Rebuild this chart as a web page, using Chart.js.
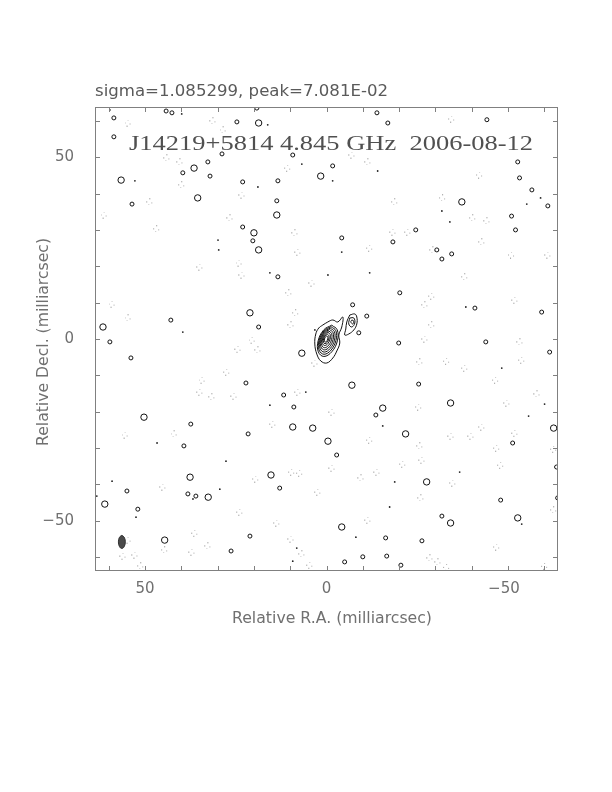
<!DOCTYPE html>
<html>
<head>
<meta charset="utf-8">
<script src="https://cdn.jsdelivr.net/npm/chart.js@4.4.1/dist/chart.umd.min.js"></script>
<style>
  html, body { margin: 0; padding: 0; background: #fff; }
  canvas { display: block; }
</style>
</head>
<body>
<canvas id="map" width="612" height="792"></canvas>
<script>
// Contour map of J14219+5814, 4.845 GHz, 2006-08-12 (offsets in mas)
const axisLimit = 63.8;
const tickValues = [60, 50, 40, 30, 20, 10, 0, -10, -20, -30, -40, -50, -60];
const labelValues = [50, 0, -50];

// nested core contours, [RA, Dec]
const coreContours = [
  [[-0.11, 0.85], [-0.37, 0.6], [-0.35, 0], [-0.07, -0.6], [0.31, -0.85], [0.57, -0.6], [0.55, 0], [0.27, 0.6]],
  [[-0.25, 1.3], [-0.67, 0.91], [-0.65, 0], [-0.2, -0.91], [0.4, -1.3], [0.82, -0.91], [0.8, 0], [0.36, 0.91]],
  [[-0.43, 1.8], [-1.01, 1.26], [-1.0, 0], [-0.38, -1.26], [0.48, -1.8], [1.07, -1.26], [1.05, 0], [0.43, 1.26]],
  [[-0.63, 2.2], [-1.4, 1.51], [-1.4, -0.1], [-0.6, -1.71], [0.53, -2.4], [1.3, -1.71], [1.3, -0.1], [0.5, 1.51]],
  [[-0.83, 2.6], [-1.79, 1.76], [-1.8, -0.2], [-0.81, -2.16], [0.58, -3.0], [1.54, -2.16], [1.55, -0.2], [0.56, 1.76]],
  [[-1.03, 3.0], [-2.18, 2.01], [-2.2, -0.3], [-1.02, -2.61], [0.63, -3.6], [1.78, -2.61], [1.8, -0.3], [0.62, 2.01]],
  [[-1.23, 3.4], [-2.58, 2.26], [-2.6, -0.4], [-1.24, -3.06], [0.68, -4.2], [2.03, -3.06], [2.05, -0.4], [0.69, 2.26]],
  [[-1.43, 3.8], [-2.96, 2.51], [-3.0, -0.5], [-1.46, -3.51], [0.73, -4.8], [2.26, -3.51], [2.3, -0.5], [0.76, 2.51]],
  [[1.02, 3.85], [-0.36, 4.68], [-1.74, 5.23], [-3.11, 4.68], [-4.49, 6.05], [-4.21, 3.3], [-3.39, 1.1], [-3.66, -1.1],
   [-2.84, -3.3], [-1.74, -5.23], [-0.08, -6.6], [1.57, -6.05], [2.67, -4.13], [3.22, -1.38], [2.95, 1.38], [2.12, 3.03]]
];

// secondary component to the north-west
const jetContours = [
  [[-6.42, 6.6], [-7.79, 6.88], [-8.35, 6.05], [-8.35, 4.13], [-7.52, 2.48], [-6.14, 1.38], [-5.04, 1.1], [-5.32, 2.75], [-5.59, 4.68]],
  [[-6.42, 5.78], [-7.52, 5.78], [-7.8, 4.4], [-6.97, 3.3], [-6.14, 4.13]],
  [[-6.97, 5.23], [-7.52, 4.95], [-7.25, 4.13], [-6.7, 4.68]]
];

// restoring beam (filled, bottom left)
const beamOutline = [[56.4, -54.0], [55.75, -54.5], [55.45, -55.8], [55.75, -57.1], [56.4, -57.6], [57.05, -57.1], [57.35, -55.8], [57.05, -54.5]];

// noise contours: larger closed loops
const blobLarge = [
  [18.7, 59.4], [36.5, 47.0], [1.6, 44.8], [56.6, 43.7], [35.5, 38.8], [13.7, 34.1], [20.0, 29.2], [18.7, 24.5],
  [21.1, 7.2], [61.6, 3.3], [6.8, -3.9], [50.3, -21.5], [9.3, -24.2], [3.8, -24.5], [37.6, -38.0], [15.3, -37.4],
  [61.1, -45.4], [32.6, -43.5], [44.6, -55.3], [-37.3, 37.7], [-7.0, -12.7], [-34.2, -17.6], [-15.5, -19.0],
  [-21.8, -26.1], [-0.4, -28.1], [-62.6, -24.5], [-27.6, -39.3], [-34.2, -50.6], [-52.7, -49.2], [-4.2, -51.7]
];

// noise contours: small closed loops
const blobSmall = [
  [44.2, 62.7], [42.6, 62.2], [58.6, 60.8], [24.7, 59.7], [19.2, 63.5], [58.6, 55.6], [28.8, 50.9], [9.3, 50.6],
  [32.7, 48.7], [39.6, 45.7], [32.1, 44.8], [23.1, 43.2], [13.4, 43.5], [13.7, 38.0], [53.6, 37.1], [23.1, 30.8],
  [20.3, 27.0], [13.4, 17.1], [42.9, 5.2], [18.7, 3.3], [-13.9, 62.2], [-16.9, 59.4], [-44.2, 60.3], [-1.7, 47.6],
  [-52.7, 48.7], [-53.2, 44.3], [-56.6, 41.0], [-61.0, 36.6], [-51.0, 33.8], [-52.1, 30.0], [-24.6, 30.0],
  [-18.3, 26.7], [-4.2, 27.8], [-30.4, 24.5], [-31.8, 22.0], [-34.5, 23.4], [-20.2, 12.7], [-7.2, 9.4],
  [-11.1, 6.3], [-40.9, 8.5], [-59.3, 7.4], [-8.9, 1.7], [59.7, -0.8], [53.9, -5.2], [22.2, -12.1], [11.8, -15.4],
  [9.0, -18.7], [37.4, -23.4], [21.6, -26.1], [39.3, -29.4], [12.9, -41.0], [55.0, -41.8], [38.2, -42.6],
  [36.0, -43.2], [52.0, -46.8], [21.1, -54.2], [26.3, -58.3], [-19.9, -1.1], [-43.9, -0.8], [-61.5, -3.6],
  [-25.4, -12.4], [-13.6, -20.9], [-2.8, -31.9], [-51.3, -28.6], [-63.4, -35.2], [-48.0, -44.3], [-63.7, -43.7],
  [-31.8, -48.7], [-16.3, -54.7], [-26.3, -55.5], [-10.0, -59.9], [-16.6, -59.7], [-5.0, -61.3], [-20.5, -62.2]
];

// noise contours: unresolved specks
const blobDot = [
  [59.7, 63.0], [39.9, 61.9], [16.2, 58.9], [6.8, 48.1], [52.8, 43.5], [18.9, 41.8], [15.6, 18.2], [39.6, 1.9],
  [29.9, 27.2], [29.7, 24.5], [-14.1, 46.2], [-1.7, 43.5], [-59.0, 38.8], [-55.2, 37.1], [-31.8, 35.2], [-34.0, 32.2],
  [-4.2, 23.9], [-11.9, 18.2], [-0.4, 17.6], [-38.4, 8.8], [3.2, 2.5], [15.6, -18.2], [5.7, -14.6], [46.7, -28.6],
  [27.7, -33.6], [59.1, -39.1], [36.8, -44.0], [63.3, -43.2], [52.5, -49.0], [29.4, -41.3], [9.3, -61.1], [8.2, -57.5],
  [-48.3, -8.0], [-15.5, -23.9], [-36.7, -36.6], [-18.8, -39.3], [-53.8, -50.9], [-8.1, -54.5], [-17.4, -46.2],
  [-60.1, -17.9], [-55.7, -21.2]
];

// negative (dashed) contours
const blobNegative = [
  [54.7, 59.4], [31.3, 60.0], [28.5, 57.5], [44.0, 49.8], [40.4, 48.7], [10.7, 47.0], [39.9, 42.4], [23.3, 39.6],
  [48.7, 37.7], [61.3, 34.1], [26.6, 33.3], [46.8, 30.3], [8.7, 29.2], [7.9, 23.9], [34.9, 19.8], [23.3, 17.6],
  [24.1, 20.9], [4.0, 15.4], [10.4, 12.7], [8.5, 7.2], [59.1, 9.6], [54.7, 5.8], [9.8, 3.9],
  [-34.5, 60.5], [-7.0, 50.6], [-11.4, 48.7], [-42.2, 45.1], [-32.0, 38.8], [-18.8, 37.7], [-40.3, 33.3],
  [-44.2, 32.5], [-18.3, 29.4], [-22.4, 29.4], [-11.9, 25.0], [-42.8, 26.7], [-29.3, 24.5], [-51.0, 23.1],
  [-38.1, 17.1], [-29.0, 11.8], [-51.9, 10.7], [-27.1, 9.4], [-29.0, 3.9], [-61.0, 23.1],
  [20.5, -0.3], [18.9, -3.0], [24.4, -2.8], [3.2, -6.6], [27.5, -9.1], [34.3, -11.3], [34.9, -14.6], [31.6, -15.9],
  [25.5, -15.7], [7.9, -14.6], [14.8, -23.4], [55.5, -26.4], [42.0, -26.1], [19.5, -38.5], [9.6, -36.6], [7.4, -36.9],
  [2.4, -42.1], [45.1, -40.7], [23.9, -47.6], [13.7, -50.6], [36.3, -53.4], [37.1, -58.6], [32.7, -56.9], [9.8, -55.0],
  [6.8, -59.1], [56.1, -59.7], [52.8, -59.4], [51.2, -62.4], [54.7, -55.3], [4.6, -62.2], [44.6, -58.0],
  [-27.1, 0.0], [-53.3, -0.8], [-25.7, -6.3], [-33.1, -6.1], [-38.1, -8.0], [-53.8, -5.8], [-46.6, -11.3],
  [-58.0, -15.1], [-49.7, -17.6], [-25.4, -18.7], [-1.5, -20.1], [-42.8, -24.2], [-51.9, -25.9], [-11.9, -27.8],
  [-34.3, -26.7], [-39.8, -26.7], [-25.7, -29.4], [-46.9, -30.0], [-62.6, -30.3], [-26.3, -33.3], [-48.0, -34.7],
  [-21.0, -34.4], [-1.5, -35.5], [-13.9, -36.6], [-9.5, -38.2], [-34.8, -39.6], [-26.0, -43.7], [-62.6, -47.0],
  [-11.4, -49.8], [-46.9, -57.2], [-30.7, -61.3], [-28.5, -60.2], [-33.1, -62.8], [-60.1, -62.5]
];

const toXY = pts => pts.map(p => ({ x: p[0], y: p[1] }));
const closeLoop = pts => toXY(pts.concat([pts[0]]));

// a few scattered grey pixels, like a tiny dashed contour
function dottedRing() {
  const c = document.createElement('canvas');
  c.width = 7; c.height = 7;
  const g = c.getContext('2d');
  g.fillStyle = '#a8a8a8';
  [[3, 0], [0, 3], [5, 4], [2, 6]].forEach(p => g.fillRect(p[0], p[1], 1, 1));
  return c;
}

const lineStyle = {
  type: 'line', showLine: true, borderColor: '#111', borderWidth: 1,
  pointRadius: 0, tension: 0.4, fill: false
};

const datasets = [];
coreContours.concat(jetContours).forEach(c => {
  datasets.push(Object.assign({ data: closeLoop(c) }, lineStyle));
});
datasets.push(Object.assign({}, lineStyle, {
  data: closeLoop(beamOutline), fill: 'shape', backgroundColor: '#4a4a4a', borderColor: '#333'
}));
datasets.push({
  type: 'scatter', data: toXY(blobLarge), pointStyle: 'circle', pointRadius: 3.2,
  backgroundColor: 'rgba(0,0,0,0)', borderColor: '#111', borderWidth: 1
});
datasets.push({
  type: 'scatter', data: toXY(blobSmall), pointStyle: 'circle', pointRadius: 2,
  backgroundColor: 'rgba(0,0,0,0)', borderColor: '#111', borderWidth: 1
});
datasets.push({
  type: 'scatter', data: toXY(blobDot), pointStyle: 'circle', pointRadius: 0.9,
  backgroundColor: '#222', borderWidth: 0
});
datasets.push({
  type: 'scatter', data: toXY(blobNegative), pointStyle: dottedRing(), pointRadius: 3
});

function fitText(ctx, text, x, y, width, size, family, align) {
  ctx.save();
  ctx.font = size + 'px ' + family;
  const w = ctx.measureText(text).width;
  const k = width / w;
  ctx.translate(x, y);
  ctx.scale(k, 1);
  ctx.textAlign = align;
  ctx.fillText(text, 0, 0);
  ctx.restore();
}

const framePlugin = {
  id: 'frame',
  afterDraw(chart) {
    const ctx = chart.ctx;
    const a = chart.chartArea;
    const xs = chart.scales.x, ys = chart.scales.y;
    ctx.save();
    ctx.strokeStyle = '#808080';
    ctx.lineWidth = 1;
    ctx.strokeRect(a.left + 0.5, a.top + 0.5, a.right - a.left - 1, a.bottom - a.top - 1);
    ctx.beginPath();
    tickValues.forEach(v => {
      const px = Math.round(xs.getPixelForValue(v)) + 0.5;
      ctx.moveTo(px, a.bottom); ctx.lineTo(px, a.bottom - 5);
      ctx.moveTo(px, a.top); ctx.lineTo(px, a.top + 5);
      const py = Math.round(ys.getPixelForValue(v)) + 0.5;
      ctx.moveTo(a.left, py); ctx.lineTo(a.left + 5, py);
      ctx.moveTo(a.right, py); ctx.lineTo(a.right - 5, py);
    });
    ctx.stroke();

    ctx.fillStyle = '#707070';
    ctx.textBaseline = 'middle';
    ctx.font = '15px "DejaVu Sans"';
    labelValues.forEach(v => {
      const t = v < 0 ? '\u2212' + Math.abs(v) : String(v);
      ctx.textAlign = 'center';
      ctx.fillText(t, xs.getPixelForValue(v) + (v < 0 ? -4 : 0), a.bottom + 18);
      ctx.textAlign = 'right';
      ctx.fillText(t, a.left - 21, ys.getPixelForValue(v));
    });

    ctx.textBaseline = 'alphabetic';
    fitText(ctx, 'Relative R.A. (milliarcsec)', 332, 623, 200, 15, '"DejaVu Sans"', 'center');
    ctx.save();
    ctx.translate(48, 342);
    ctx.rotate(-Math.PI / 2);
    fitText(ctx, 'Relative Decl. (milliarcsec)', 0, 0, 208, 15, '"DejaVu Sans"', 'center');
    ctx.restore();

    ctx.fillStyle = '#5a5a5a';
    fitText(ctx, 'sigma=1.085299, peak=7.081E-02', 95, 96, 293, 15, '"DejaVu Sans"', 'left');
    ctx.fillStyle = '#505050';
    fitText(ctx, 'J14219+5814 4.845 GHz  2006-08-12', 129, 150, 404, 22, '"Liberation Serif"', 'left');
    ctx.restore();
  }
};

new Chart(document.getElementById('map'), {
  type: 'scatter',
  data: { datasets: datasets },
  options: {
    responsive: false,
    animation: false,
    layout: { padding: { left: 95, right: 54, top: 107, bottom: 221 } },
    plugins: { legend: { display: false }, tooltip: { enabled: false } },
    scales: {
      x: { type: 'linear', min: -axisLimit, max: axisLimit, reverse: true, display: false },
      y: { type: 'linear', min: -axisLimit, max: axisLimit, display: false }
    }
  },
  plugins: [framePlugin]
});
</script>
</body>
</html>
